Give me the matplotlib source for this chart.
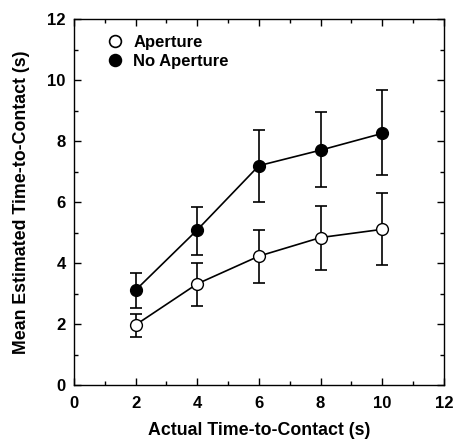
import matplotlib.pyplot as plt
from matplotlib.lines import Line2D
from matplotlib.ticker import MultipleLocator

plt.rcParams['font.family'] = ['Liberation Sans', 'DejaVu Sans']

actual = [2, 4, 6, 8, 10]

aperture = [1.97, 3.32, 4.23, 4.84, 5.11]
aperture_hi = [2.32, 4.02, 5.09, 5.88, 6.29]
aperture_lo = [1.59, 2.59, 3.34, 3.77, 3.94]

no_aperture = [3.11, 5.09, 7.20, 7.71, 8.26]
no_aperture_hi = [3.66, 5.83, 8.37, 8.95, 9.68]
no_aperture_lo = [2.52, 4.27, 6.02, 6.49, 6.89]

fig = plt.figure(figsize=(4.53, 4.43), dpi=100)
ax = fig.add_axes([0.163, 0.131, 0.817, 0.825])

def err(v, lo, hi):
    return [[a - b for a, b in zip(v, lo)], [b - a for a, b in zip(v, hi)]]

ax.errorbar(actual, no_aperture, yerr=err(no_aperture, no_aperture_lo, no_aperture_hi),
            fmt='-o', color='black', mfc='black', mec='black', ms=8.5, lw=1.2,
            elinewidth=1.2, capsize=4, capthick=1.2, zorder=3)
ax.errorbar(actual, aperture, yerr=err(aperture, aperture_lo, aperture_hi),
            fmt='-o', color='black', mfc='white', mec='black', ms=8.5, lw=1.2,
            elinewidth=1.2, capsize=4, capthick=1.2, zorder=4)

ax.set_xlim(0, 12)
ax.set_ylim(0, 12)
ax.xaxis.set_major_locator(MultipleLocator(2))
ax.yaxis.set_major_locator(MultipleLocator(2))
ax.xaxis.set_minor_locator(MultipleLocator(1))
ax.yaxis.set_minor_locator(MultipleLocator(1))
ax.tick_params(which='both', direction='in', top=True, right=True, width=1.0)
ax.tick_params(which='major', length=5, labelsize=12, pad=6)
ax.tick_params(axis='x', which='major', pad=8)
ax.tick_params(which='minor', length=3)
for lab in ax.get_xticklabels() + ax.get_yticklabels():
    lab.set_fontweight('bold')
for s in ax.spines.values():
    s.set_linewidth(1.0)

ax.set_xlabel('Actual Time-to-Contact (s)', fontsize=12.8, fontweight='bold', labelpad=8)
ax.set_ylabel('Mean Estimated Time-to-Contact (s)', fontsize=12.8, fontweight='bold', labelpad=12.5)

handles = [
    Line2D([], [], ls='none', marker='o', ms=8.5, mfc='white', mec='black', mew=1.2),
    Line2D([], [], ls='none', marker='o', ms=8.5, mfc='black', mec='black', mew=1.2),
]
ax.legend(handles, ['Aperture', 'No Aperture'], loc='upper left', frameon=False,
          prop={'weight': 'bold', 'size': 12}, handletextpad=0.6,
          labelspacing=0.2, borderaxespad=0.0, handlelength=1.0,
          bbox_to_anchor=(0.07, 0.975))

fig.savefig('out.png', dpi=100)
